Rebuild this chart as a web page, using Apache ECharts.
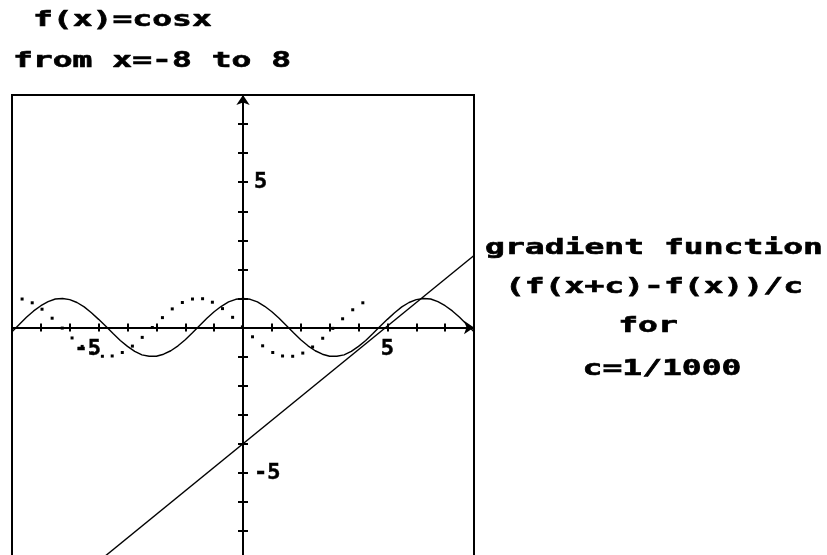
<!DOCTYPE html>
<html>
<head>
<meta charset="utf-8">
<script src="https://cdn.jsdelivr.net/npm/echarts@6/dist/echarts.min.js"></script>
<style>
  html, body { margin: 0; padding: 0; background: #fff; }
  #chart { width: 827px; height: 555px; }
</style>
</head>
<body>
<div id="chart"></div>
<script>
// f(x) = cos x, sampled every 0.25 from -8 to 8
const cosX = [-8, -7.75, -7.5, -7.25, -7, -6.75, -6.5, -6.25, -6, -5.75, -5.5, -5.25, -5, -4.75, -4.5, -4.25,
  -4, -3.75, -3.5, -3.25, -3, -2.75, -2.5, -2.25, -2, -1.75, -1.5, -1.25, -1, -0.75, -0.5, -0.25,
  0, 0.25, 0.5, 0.75, 1, 1.25, 1.5, 1.75, 2, 2.25, 2.5, 2.75, 3, 3.25, 3.5, 3.75,
  4, 4.25, 4.5, 4.75, 5, 5.25, 5.5, 5.75, 6, 6.25, 6.5, 6.75, 7, 7.25, 7.5, 7.75, 8];
const cosY = [-0.15, 0.10, 0.35, 0.57, 0.75, 0.89, 0.98, 1.00, 0.96, 0.86, 0.71, 0.51, 0.28, 0.04, -0.21, -0.45,
  -0.65, -0.82, -0.94, -0.99, -0.99, -0.92, -0.80, -0.63, -0.42, -0.18, 0.07, 0.32, 0.54, 0.73, 0.88, 0.97,
  1.00, 0.97, 0.88, 0.73, 0.54, 0.32, 0.07, -0.18, -0.42, -0.63, -0.80, -0.92, -0.99, -0.99, -0.94, -0.82,
  -0.65, -0.45, -0.21, 0.04, 0.28, 0.51, 0.71, 0.86, 0.96, 1.00, 0.98, 0.89, 0.75, 0.57, 0.35, 0.10, -0.15];

// gradient function (f(x+c)-f(x))/c, plotted as dots
const gradX = [-7.65, -7.30, -6.96, -6.61, -6.26, -5.92, -5.57, -5.22, -4.87, -4.53, -4.18, -3.83,
  -3.49, -3.14, -2.79, -2.45, -2.10, -1.75, -1.40, -1.06, -0.71, -0.36, -0.02, 0.33, 0.68, 1.03,
  1.37, 1.72, 2.07, 2.41, 2.76, 3.11, 3.45, 3.80, 4.15];
const gradY = [0.98, 0.85, 0.63, 0.32, -0.02, -0.36, -0.65, -0.87, -0.99, -0.98, -0.86, -0.64,
  -0.34, 0.00, 0.34, 0.64, 0.86, 0.98, 0.99, 0.87, 0.65, 0.35, 0.02, -0.32, -0.63, -0.86,
  -0.98, -0.99, -0.88, -0.67, -0.37, -0.03, 0.30, 0.61, 0.85];

// straight line across the plot
const straightX = [-4.94, 8];
const straightY = [-8, 2.48];

// axis range and the tick values that carry a number
const axisMin = -8, axisMax = 8, axisStep = 1;
const xTickLabels = [-5, 5];
const yTickLabels = [-5, 5];

const titleLines = ['f(x)=cosx', 'from x=-8 to 8'];
const noteLines = ['gradient function', '(f(x+c)-f(x))/c', 'for', 'c=1/1000'];

const zip = (xs, ys) => xs.map((x, i) => [x, ys[i]]);
const FONT = '"DejaVu Sans Mono", "Liberation Mono", monospace';
const FONT_SIZE = 22;
const STRETCH = 1.5;

const labelFont = {
  fontFamily: FONT, fontWeight: 'bold', fontSize: FONT_SIZE, color: '#000',
  textBorderColor: '#000', textBorderWidth: 0.5, opacity: 1
};

const commonAxis = {
  type: 'value', min: axisMin, max: axisMax, interval: axisStep,
  splitLine: { show: false }, axisLabel: { show: false }
};
const axisLineStyle = { color: '#000', width: 2 };
const tickStyle = { color: '#000', width: 2 };

const textEl = (str, x, y, align) => ({
  type: 'text', x: x, y: y, scaleX: STRETCH, scaleY: 1,
  style: { text: str, x: 0, y: 0, align: align, verticalAlign: 'middle',
    fontFamily: FONT, fontWeight: 'bold', fontSize: FONT_SIZE, fill: '#000',
    stroke: '#000', lineWidth: 0.6 }
});

const chart = echarts.init(document.getElementById('chart'), null, { renderer: 'canvas' });
chart.setOption({
  backgroundColor: '#fff',
  animation: false,
  grid: { left: 12, top: 95, width: 462, height: 465, show: true,
    outerBoundsMode: 'none', containLabel: false,
    borderColor: '#000', borderWidth: 2, backgroundColor: 'transparent' },
  // paired axes on the zero lines give ticks on both sides
  xAxis: [
    Object.assign({}, commonAxis, {
      position: 'bottom',
      axisLine: { onZero: true, onZeroAxisIndex: 0, lineStyle: axisLineStyle,
        symbol: ['none', 'arrow'], symbolSize: [10, 10] },
      axisTick: { show: true, length: 4, lineStyle: tickStyle }
    }),
    Object.assign({}, commonAxis, {
      position: 'top',
      axisLine: { onZero: true, onZeroAxisIndex: 0, lineStyle: axisLineStyle },
      axisTick: { show: true, length: 4, lineStyle: tickStyle }
    })
  ],
  yAxis: [
    Object.assign({}, commonAxis, {
      position: 'left',
      axisLine: { onZero: true, onZeroAxisIndex: 0, lineStyle: axisLineStyle,
        symbol: ['none', 'arrow'], symbolSize: [10, 10] },
      axisTick: { show: true, length: 5, lineStyle: tickStyle }
    }),
    Object.assign({}, commonAxis, {
      position: 'right',
      axisLine: { onZero: true, onZeroAxisIndex: 0, lineStyle: axisLineStyle },
      axisTick: { show: true, length: 5, lineStyle: tickStyle }
    })
  ],
  series: [
    {
      name: 'cos x', type: 'line', xAxisIndex: 0, yAxisIndex: 0,
      data: zip(cosX, cosY), showSymbol: false, clip: true,
      lineStyle: { color: '#000', width: 1.4 }
    },
    {
      name: 'gradient', type: 'scatter', xAxisIndex: 0, yAxisIndex: 0,
      data: zip(gradX, gradY), symbol: 'rect', symbolSize: 3,
      itemStyle: { color: '#000', opacity: 1 }
    },
    {
      name: 'line', type: 'line', xAxisIndex: 0, yAxisIndex: 0,
      data: zip(straightX, straightY), showSymbol: false, clip: true,
      lineStyle: { color: '#000', width: 1.4 }
    },
    // numbers under the x axis at their ticks
    {
      name: 'x numbers', type: 'scatter', xAxisIndex: 0, yAxisIndex: 0,
      data: xTickLabels.map(v => [v, 0]), symbolSize: 0, silent: true,
      label: Object.assign({
        show: true, position: 'bottom', distance: 11,
        formatter: p => p.value[0] < 0 ? '{neg|' + p.value[0] + '}' : String(p.value[0]),
        rich: { neg: Object.assign({ padding: [0, 22, 0, 0] }, labelFont) }
      }, labelFont)
    },
    // numbers right of the y axis at their ticks
    {
      name: 'y numbers', type: 'scatter', xAxisIndex: 0, yAxisIndex: 0,
      data: yTickLabels.map(v => [0, v]), symbolSize: 0, silent: true,
      label: Object.assign({
        show: true, position: 'right', distance: 11,
        formatter: p => String(p.value[1])
      }, labelFont)
    }
  ],
  graphic: [
    textEl(titleLines[0], 33, 20, 'left'),
    textEl(titleLines[1], 13, 61, 'left'),
    textEl(noteLines[0], 654, 248, 'center'),
    textEl(noteLines[1], 654, 287, 'center'),
    textEl(noteLines[2], 648, 326, 'center'),
    textEl(noteLines[3], 662, 369, 'center')
  ]
});
</script>
</body>
</html>
